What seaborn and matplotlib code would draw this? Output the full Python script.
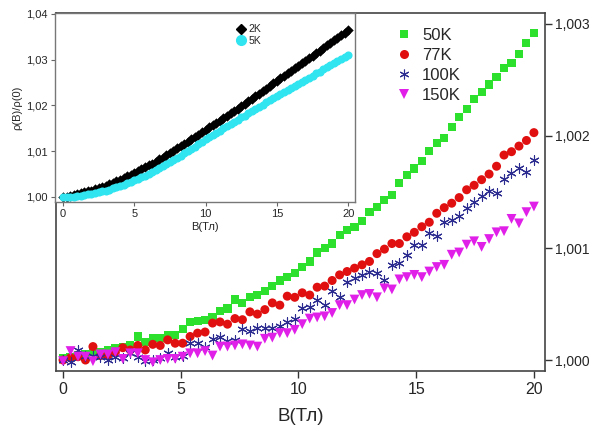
import numpy as np
import pandas as pd
import matplotlib
matplotlib.use("Agg")
import matplotlib.pyplot as plt
import seaborn as sns
from matplotlib.lines import Line2D

# ---------------- data ----------------
# main panel: field B (T), 64 evenly spaced points from 0 to 20 T
B_main = np.linspace(0, 20, 64)
# rho(B)/rho(0) - 1, in units of 1e-4
rho_50K_e4 = [0.2, 0.3, 0.4, 0.5, 0.7, 0.7, 0.9, 1.1, 1.2, 1.3, 2.1, 1.6, 2.0, 2.0, 2.2, 2.2, 2.8,
              3.4, 3.5, 3.6, 3.8, 4.4, 4.6, 5.4, 5.1, 5.6, 5.8, 6.2, 6.6, 7.1, 7.4, 7.8,
              8.3, 8.8, 9.6, 10.0, 10.4, 11.2, 11.6, 11.9, 12.4, 13.2, 13.7, 14.3, 14.7, 15.8, 16.5, 17.1,
              17.8, 18.7, 19.4, 19.8, 20.8, 21.7, 22.4, 23.3, 23.9, 24.6, 25.3, 26.1, 26.5, 27.3, 28.3, 29.2]
rho_77K_e4 = [0.0, 0.2, 0.3, 0.0, 1.2, 0.4, 0.4, 0.7, 1.1, 0.9, 1.3, 0.9, 1.4, 1.3, 1.8, 1.5, 1.5,
              2.1, 2.4, 2.5, 3.3, 3.4, 3.2, 3.7, 3.6, 4.3, 4.1, 4.5, 5.1, 4.9, 5.7, 5.6,
              6.0, 5.8, 6.5, 6.6, 7.1, 7.6, 7.9, 8.2, 8.5, 8.8, 9.5, 9.9, 10.4, 10.4, 11.0, 11.4, 11.9, 12.3,
              13.1, 13.6, 14.0, 14.5, 15.2, 15.6, 16.1, 16.6, 17.3, 18.3, 18.6, 19.1, 19.6, 20.3]
rho_100K_e4 = [0.0, -0.2, 0.9, 0.4, 0.4, 0.3, 0.0, 0.3, 0.2, 0.6, 0.3, -0.1, 0.0, 0.2, 0.6, 0.3, 0.4,
               1.5, 1.5, 1.2, 1.9, 2.1, 1.7, 1.8, 2.8, 2.6, 2.9, 2.9, 2.9, 3.0, 3.4, 3.7,
               4.6, 4.7, 5.4, 4.9, 6.2, 5.6, 7.0, 7.3, 7.6, 7.9, 7.8, 7.1, 8.5, 8.7, 9.4, 10.3, 10.3, 11.3,
               11.1, 12.3, 12.5, 12.9, 13.6, 14.1, 14.6, 15.1, 14.9, 16.2, 16.7, 17.1, 16.8, 17.9]
rho_150K_e4 = [-0.1, 0.8, 0.3, 0.3, -0.1, 0.5, 0.5, 0.7, 0.1, 0.6, 0.6, 0.0, -0.2, 0.0, 0.1, 0.1, 0.3,
               0.6, 0.6, 0.8, 0.4, 1.2, 1.2, 1.3, 1.4, 1.3, 1.2, 1.9, 2.0, 2.4, 2.4, 2.7,
               3.2, 3.7, 3.8, 3.9, 4.2, 4.9, 4.9, 5.4, 5.8, 5.9, 5.6, 6.4, 6.3, 7.2, 7.4, 7.6, 7.4, 7.9,
               8.3, 8.5, 9.4, 9.6, 10.3, 10.6, 10.1, 10.8, 11.4, 11.5, 12.6, 12.2, 13.2, 13.7]
main_labels = ["50K", "77K", "100K", "150K"]
main_yticks = [1.000, 1.001, 1.002, 1.003]
main_yticklabels = ["1,000", "1,001", "1,002", "1,003"]
main_xticks = [0, 5, 10, 15, 20]

# inset: field every 0.25 T from 0 to 20 T
B_inset = np.linspace(0, 20, 81)
# rho(B)/rho(0) - 1, in units of 1e-4
rho_2K_e4 = [0, 1, 3, 4, 6, 8, 10, 12, 14, 17, 19, 22, 25, 28, 31, 35, 38, 42, 45, 49,
             53, 57, 61, 65, 69, 73, 77, 82, 86, 91, 96, 101, 106, 111, 116, 121, 126, 131, 136, 142,
             147, 152, 157, 162, 167, 172, 177, 183, 188, 193, 198, 204, 209, 214, 220, 225,
             231, 237, 242, 248, 254, 259, 265, 270, 276, 281, 287, 292, 298, 303, 309, 314,
             320, 325, 331, 336, 342, 347, 353, 358, 364]
rho_5K_e4 = [0, 0, 1, 1, 2, 3, 4, 6, 7, 9, 10, 12, 14, 16, 19, 21, 24, 27, 30, 33,
             36, 39, 43, 46, 50, 54, 58, 63, 67, 71, 76, 80, 85, 90, 95, 100, 105, 110, 116, 121,
             126, 131, 136, 140, 145, 150, 155, 159, 164, 169, 174, 178, 183, 188, 193, 197,
             202, 207, 211, 216, 220, 225, 229, 234, 238, 243, 247, 252, 256, 261, 265, 270,
             274, 279, 284, 288, 293, 297, 302, 306, 311]
inset_labels = ["2K", "5K"]
inset_yticks = [1.00, 1.01, 1.02, 1.03, 1.04]
inset_yticklabels = ["1,00", "1,01", "1,02", "1,03", "1,04"]
inset_xticks = [0, 5, 10, 15, 20]

# ---------------- styling ----------------
sns.set_style("white")
plt.rcParams["font.family"] = ["Liberation Sans", "DejaVu Sans"]

fig = plt.figure(figsize=(5.9, 4.32), dpi=100)
ax = fig.add_axes([0.0949, 0.1412, 0.8288, 0.8287])

main_series = [rho_50K_e4, rho_77K_e4, rho_100K_e4, rho_150K_e4]
colors = ["#2ee02e", "#e01010", "#2b2b90", "#e020e8"]
markers = ["s", "o", (6, 2, 0), "v"]
sizes = [34, 42, 45, 50]
lw = [0, 0, 0.8, 0]

for vals, lab, c, m, s, l in zip(main_series, main_labels, colors, markers, sizes, lw):
    df = pd.DataFrame({"B": B_main, "rho": 1 + np.array(vals) * 1e-4})
    sns.scatterplot(data=df, x="B", y="rho", ax=ax, color=c, marker=m, s=s,
                    linewidth=l, edgecolor=c if l else "none", label=lab, legend=False)

ax.set_xlim(-0.3, 20.47)
ax.set_ylim(0.999902, 1.003098)
ax.set_xticks(main_xticks)
ax.set_xticklabels([str(t) for t in main_xticks], fontsize=11.5)
ax.yaxis.tick_right()
ax.set_yticks(main_yticks)
ax.set_yticklabels(main_yticklabels, fontsize=10)
ax.tick_params(axis="x", direction="out", length=5, width=1, color="#333333", bottom=True, pad=3)
ax.tick_params(axis="y", direction="out", length=5, width=1, color="#333333", right=True, left=False, pad=2)
ax.set_xlabel("B(Тл)", fontsize=13.5, labelpad=8)
ax.set_ylabel("")
for sp in ax.spines.values():
    sp.set_color("#444444")
    sp.set_linewidth(1.2)

handles = [Line2D([], [], linestyle="none", marker=m, color=c, markersize=ms,
                  markeredgewidth=(0.8 if i == 2 else 0), markeredgecolor=c)
           for i, (m, c, ms) in enumerate(zip(markers, colors, [5.5, 6.5, 7, 7.5]))]
ax.legend(handles, main_labels, loc="upper left", bbox_to_anchor=(0.66, 1.0),
          frameon=False, fontsize=12, handletextpad=0.5, labelspacing=0.3, handlelength=1.2)

# ---------------- inset ----------------
ins = fig.add_axes([0.0932, 0.5324, 0.5085, 0.4375])
ins.set_facecolor("white")
ins.set_zorder(5)
df2 = pd.DataFrame({"B": B_inset, "rho": 1 + np.array(rho_2K_e4) * 1e-4})
df5 = pd.DataFrame({"B": B_inset, "rho": 1 + np.array(rho_5K_e4) * 1e-4})
sns.scatterplot(data=df2, x="B", y="rho", ax=ins, color="black", marker="D", s=28,
                linewidth=0, legend=False)
sns.scatterplot(data=df5, x="B", y="rho", ax=ins, color="#30e4f0", marker="o", s=34,
                linewidth=0, legend=False)
ins.set_xlim(-0.56, 20.48)
ins.set_ylim(0.9989, 1.0402)
ins.set_xticks(inset_xticks)
ins.set_xticklabels([str(t) for t in inset_xticks], fontsize=8)
ins.set_yticks(inset_yticks)
ins.set_yticklabels(inset_yticklabels, fontsize=8)
ins.tick_params(direction="out", length=3, width=0.8, color="#666666", left=True, bottom=True, pad=2)
ins.set_xlabel("B(Тл)", fontsize=8, labelpad=2)
ins.set_ylabel("ρ(B)/ρ(0)", fontsize=8, labelpad=3)
for sp in ins.spines.values():
    sp.set_color("#777777")
    sp.set_linewidth(1.0)
ih = [Line2D([], [], linestyle="none", marker="D", color="black", markersize=5.5),
      Line2D([], [], linestyle="none", marker="o", color="#30e4f0", markersize=7)]
ins.legend(ih, inset_labels, loc="upper left", bbox_to_anchor=(0.57, 0.99), frameon=False,
           fontsize=7.5, handletextpad=0.3, labelspacing=0.15, handlelength=1.0)

fig.savefig("out.png", dpi=100)
